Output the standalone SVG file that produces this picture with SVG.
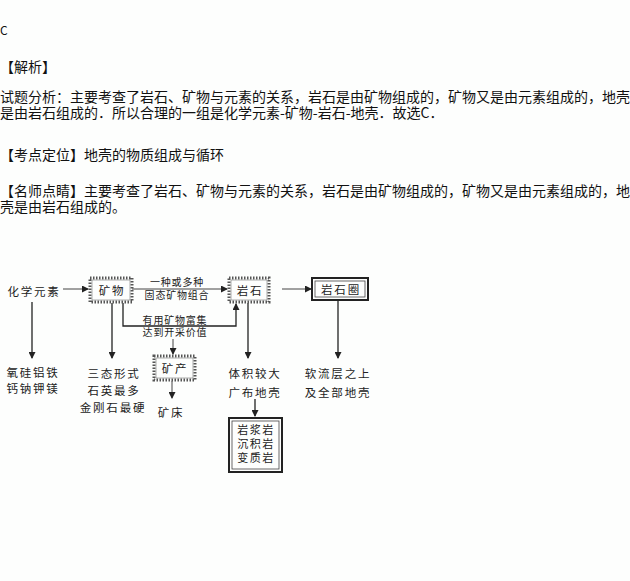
<svg xmlns="http://www.w3.org/2000/svg" width="630" height="581" viewBox="0 0 630 581">
<style>
.t{font-family:"Noto Sans CJK SC","Noto Sans",sans-serif;font-size:14px;fill:#111}
.d{font-family:"Noto Sans CJK SC","Noto Sans",sans-serif;font-size:11.5px;fill:#222;letter-spacing:1.8px;text-anchor:middle}
.r{font-family:"Noto Sans CJK SC","Noto Sans",sans-serif;font-size:11px;fill:#222;letter-spacing:1.5px;text-anchor:middle}
.s{font-family:"Noto Sans CJK SC","Noto Sans",sans-serif;font-size:10px;fill:#222;letter-spacing:0.8px;text-anchor:middle}
.hb{fill:none;stroke:#555;stroke-width:3;stroke-dasharray:1.5 1.5}
.hi{fill:none;stroke:#777;stroke-width:0.6}
.db{fill:none;stroke:#222;stroke-width:2}
.di{fill:none;stroke:#444;stroke-width:0.8}
.c{fill:none;stroke:#222;stroke-width:1.3}
.cl{fill:none;stroke:#444;stroke-width:1}
</style>
<defs>
<marker id="ah" markerWidth="7" markerHeight="7" refX="6" refY="3.5" orient="auto" markerUnits="userSpaceOnUse">
<path d="M0,0 L7,3.5 L0,7 Z" fill="#222"/>
</marker>
</defs>
<rect width="630" height="581" fill="#fdfefd"/>
<g id="text-block">
<text class="t" x="0" y="35" style="font-size:12px">C</text>
<text class="t" x="0" y="72">【解析】</text>
<text class="t" x="0" y="102">试题分析：主要考查了岩石、矿物与元素的关系，岩石是由矿物组成的，矿物又是由元素组成的，地壳</text>
<text class="t" x="0" y="118">是由岩石组成的．所以合理的一组是化学元素-矿物-岩石-地壳．故选C．</text>
<text class="t" x="0" y="160">【考点定位】地壳的物质组成与循环</text>
<text class="t" x="0" y="196">【名师点睛】主要考查了岩石、矿物与元素的关系，岩石是由矿物组成的，矿物又是由元素组成的，地</text>
<text class="t" x="0" y="212">壳是由岩石组成的。</text>
</g>
<g id="connectors">
<line class="cl" x1="63" y1="289" x2="88" y2="289" marker-end="url(#ah)"/>
<line class="cl" x1="132" y1="289" x2="227" y2="289" marker-end="url(#ah)"/>
<line class="cl" x1="282" y1="289" x2="311" y2="289" marker-end="url(#ah)"/>
<line class="c" x1="32" y1="302" x2="32" y2="358" marker-end="url(#ah)"/>
<line class="c" x1="112" y1="303" x2="112" y2="358" marker-end="url(#ah)"/>
<path class="c" d="M123,303 V326 H236 V304" marker-end="url(#ah)"/>
<line class="cl" x1="173" y1="339" x2="173" y2="354" marker-end="url(#ah)"/>
<line class="cl" x1="172" y1="381" x2="172" y2="398" marker-end="url(#ah)"/>
<line class="c" x1="248" y1="303" x2="248" y2="358" marker-end="url(#ah)"/>
<line class="c" x1="255" y1="399" x2="255" y2="416" marker-end="url(#ah)"/>
<line class="c" x1="338" y1="301" x2="338" y2="358" marker-end="url(#ah)"/>
<text class="s" x="177" y="286">一种或多种</text>
<text class="s" x="177" y="299">固态矿物组合</text>
<text class="s" x="175" y="324">有用矿物富集</text>
<text class="s" x="175" y="336">达到开采价值</text>
</g>
<g id="node-elements">
<text class="d" x="34" y="296">化学元素</text>
<text class="d" x="33" y="377">氧硅铝铁</text>
<text class="d" x="33" y="393">钙钠钾镁</text>
</g>
<g id="node-minerals">
<rect class="hb" x="90" y="278" width="42" height="24"/>
<rect class="hi" x="92" y="280" width="38" height="20"/>
<text class="d" x="112" y="294.5">矿物</text>
<text class="d" x="114" y="378">三态形式</text>
<text class="d" x="114" y="395">石英最多</text>
<text class="d" x="113" y="412">金刚石最硬</text>
</g>
<g id="node-ore">
<rect class="hb" x="154" y="356" width="41" height="24"/>
<rect class="hi" x="156" y="358" width="37" height="20"/>
<text class="d" x="175" y="372.5">矿产</text>
<text class="d" x="171" y="417">矿床</text>
</g>
<g id="node-rock">
<rect class="hb" x="229" y="278" width="40" height="24"/>
<rect class="hi" x="231" y="280" width="36" height="20"/>
<text class="d" x="250" y="294.5">岩石</text>
<text class="d" x="255" y="378">体积较大</text>
<text class="d" x="255" y="397">广布地壳</text>
</g>
<g id="node-rocktypes">
<rect class="db" x="229" y="418" width="53" height="54"/>
<rect class="di" x="232" y="421" width="47" height="48"/>
<text class="r" x="256" y="434">岩浆岩</text>
<text class="r" x="256" y="448">沉积岩</text>
<text class="r" x="256" y="462">变质岩</text>
</g>
<g id="node-lithosphere">
<rect class="db" x="312" y="278" width="56" height="22"/>
<rect class="di" x="315" y="281" width="50" height="16"/>
<text class="d" x="341" y="293.5">岩石圈</text>
<text class="d" x="338" y="378">软流层之上</text>
<text class="d" x="338" y="397">及全部地壳</text>
</g>
</svg>
